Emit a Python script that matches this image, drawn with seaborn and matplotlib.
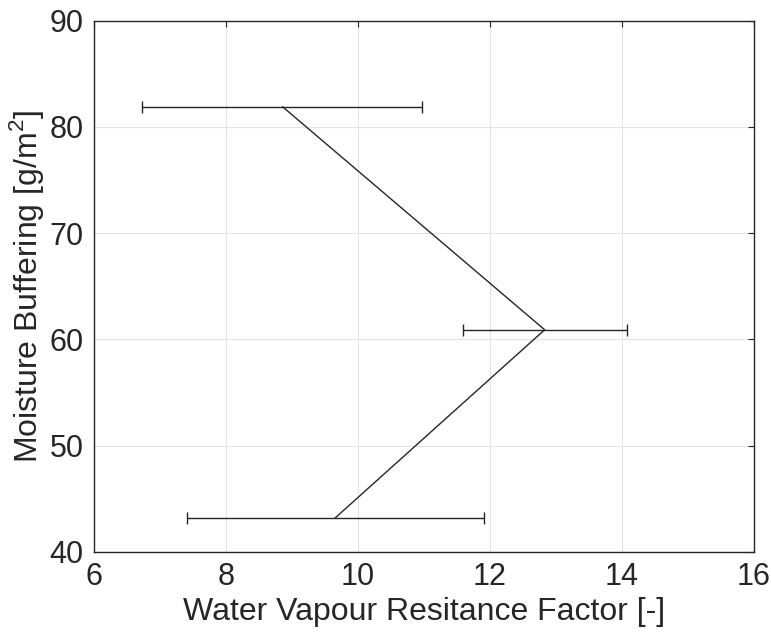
import matplotlib
matplotlib.use("Agg")
import matplotlib.pyplot as plt
import seaborn as sns
import pandas as pd

# Data
resistance = [8.86, 12.83, 9.66]
buffering = [81.9, 60.9, 43.2]
resistance_err = [2.12, 1.24, 2.25]

x_ticks = [6, 8, 10, 12, 14, 16]
y_ticks = [40, 50, 60, 70, 80, 90]

sns.set_theme(style="white")
plt.rcParams['font.family'] = ['Liberation Sans', 'DejaVu Sans']
plt.rcParams['mathtext.fontset'] = 'custom'
plt.rcParams['mathtext.rm'] = 'Liberation Sans'

df = pd.DataFrame({"x": resistance, "y": buffering, "err": resistance_err})

fig = plt.figure(figsize=(7.71, 6.42), dpi=100)
ax = fig.add_axes([0.1213, 0.1404, 0.978 - 0.1213, 0.968 - 0.1404])

ax.grid(True, color="#e3e3e3", linewidth=0.8)
ax.set_axisbelow(True)

sns.lineplot(data=df, x="x", y="y", sort=False, estimator=None,
             color="#262626", linewidth=1.0, ax=ax)
ax.errorbar(df["x"], df["y"], xerr=df["err"], fmt="none",
            ecolor="#262626", elinewidth=1.0, capsize=4, capthick=1.0)

ax.set_xlim(6, 16)
ax.set_ylim(40, 90)
ax.set_xticks(x_ticks)
ax.set_yticks(y_ticks)
ax.tick_params(axis="both", direction="in", length=4, width=0.8,
               colors="#262626", labelsize=22, top=True, right=True,
               labelcolor="#262626", pad=7)
for s in ax.spines.values():
    s.set_color("#262626")
    s.set_linewidth(1.0)

ax.set_xlabel("Water Vapour Resitance Factor [-]", fontsize=23, color="#262626", labelpad=4)
ax.set_ylabel("Moisture Buffering [g/m$^2$]", fontsize=23, color="#262626", labelpad=3)

fig.savefig("out.png", dpi=100)
